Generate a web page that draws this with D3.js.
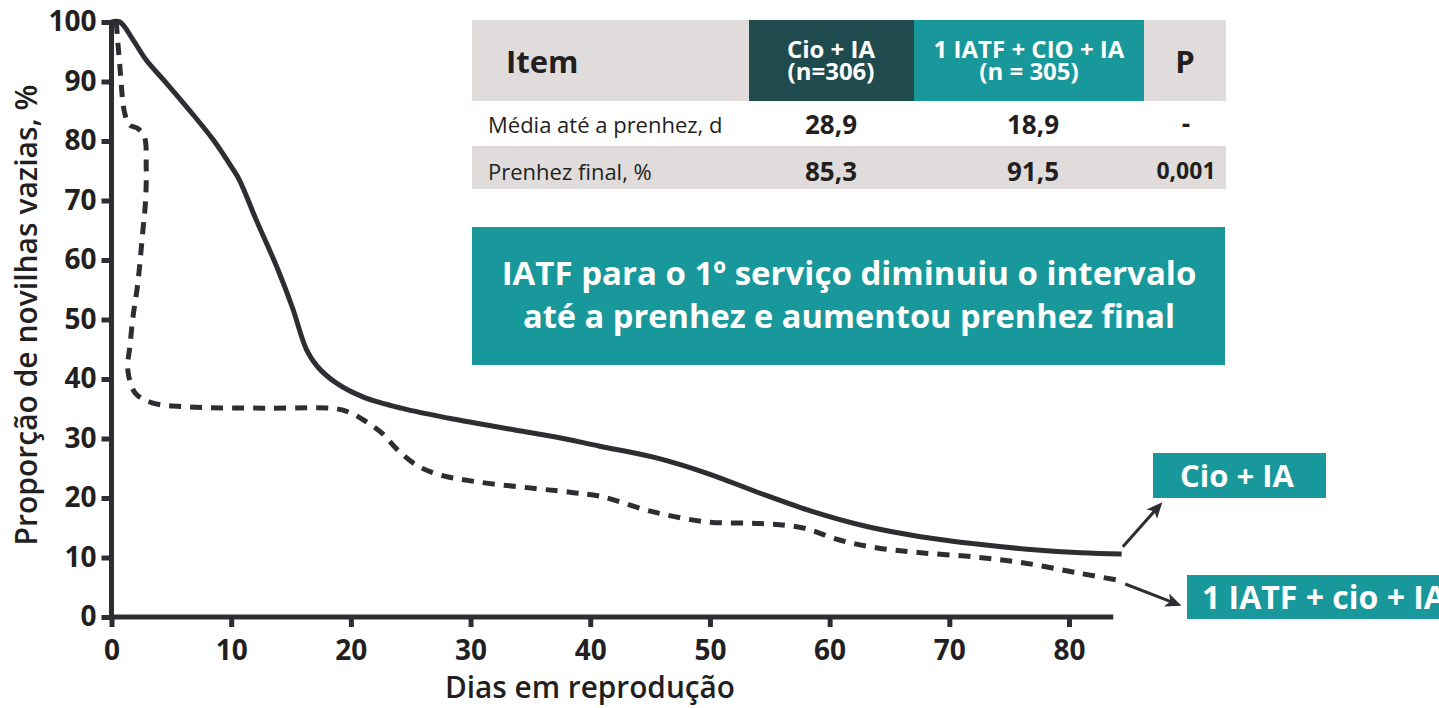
<!DOCTYPE html>
<html>
<head>
<meta charset="utf-8">
<script src="https://cdn.jsdelivr.net/npm/d3@7"></script>
<style>
  html, body { margin: 0; padding: 0; background: #ffffff; }
  svg { display: block; }
  text { font-family: "Open Sans", "Noto Sans", sans-serif; }
</style>
</head>
<body>
<script>
// ---------------- DATA ----------------
const xTicks = [0, 10, 20, 30, 40, 50, 60, 70, 80];
const yTicks = [0, 10, 20, 30, 40, 50, 60, 70, 80, 90, 100];

// Cio + IA (solid)
const cioDays = [0, 0.7, 1.8, 2.9, 4.6, 6.5, 8.5, 10.1, 10.7, 12.1, 13.8, 15.1, 16.3, 17.2, 18.8, 21.0, 24.2, 29.0, 33.8, 37.0, 40.8, 45.2, 49.7, 54.2, 58.6, 63.1, 67.6, 72.1, 76.5, 81.0, 84.4];
const cioPct  = [100, 100, 97.0, 93.6, 89.7, 85.2, 80.2, 75.4, 73.4, 66.7, 58.9, 52.1, 44.9, 42.1, 39.3, 37.0, 35.1, 33.1, 31.4, 30.3, 28.7, 26.9, 24.2, 20.8, 17.7, 15.2, 13.5, 12.3, 11.4, 10.8, 10.6];

// 1 IATF + cio + IA (dashed)
const iatfDays = [0.4, 0.7, 1.1, 1.5, 2.2, 2.75, 2.9, 2.85, 2.6, 2.2, 1.8, 1.5, 1.35, 1.45, 2.0, 3.4, 6.6, 13.0, 18.8, 20.1, 21.3, 22.6, 23.9, 25.5, 27.4, 30.6, 35.4, 38.6, 40.8, 45.2, 49.7, 54.2, 57.7, 60.9, 64.0, 67.6, 72.1, 76.5, 81.0, 84.1];
const iatfPct  = [100, 92.5, 84.7, 82.7, 82.1, 80.7, 75.7, 70.1, 64.5, 56.1, 50.5, 44.9, 42.5, 40.4, 37.6, 36.0, 35.3, 35.1, 35.0, 34.2, 32.8, 30.9, 28.1, 25.5, 23.9, 22.7, 21.6, 20.9, 20.3, 17.7, 16.0, 15.7, 15.0, 12.9, 11.6, 10.8, 10.1, 9.0, 7.3, 6.2];

const seriesNames = ["Cio + IA", "1 IATF + cio + IA"];

// Table
const tableHeader = ["Item", ["Cio + IA", "(n=306)"], ["1 IATF + CIO + IA", "(n = 305)"], "P"];
const rowLabels = ["Média até a prenhez, d", "Prenhez final, %"];
const colCio = ["28,9", "85,3"];
const colIatf = ["18,9", "91,5"];
const colP = ["-", "0,001"];

const boxLines = ["IATF para o 1º serviço diminuiu o intervalo", "até a prenhez e aumentou prenhez final"];
const xTitle = "Dias em reprodução";
const yTitle = "Proporção de novilhas vazias, %";

// ---------------- STYLE ----------------
const INK = "#2e2d33";
const TXT = "#231f20";
const TEAL = "#18989a";
const DARK_TEAL = "#1f4b4f";
const GRAY = "#e0dcdb";

const W = 1439, H = 708;
const svg = d3.select("body").append("svg").attr("width", W).attr("height", H);

const x = d3.scaleLinear().domain([0, 80]).range([111.5, 1069]);
const y = d3.scaleLinear().domain([0, 100]).range([617, 22]);
const xAxisEnd = 83.7;

function fit(sel, target) {
  sel.each(function () {
    const w = this.getComputedTextLength();
    if (w > target) {
      d3.select(this).attr("textLength", target).attr("lengthAdjust", "spacingAndGlyphs");
    }
  });
}

// ---------------- AXES ----------------
const gx = svg.append("g").attr("transform", `translate(0,${y(0)})`)
  .call(d3.axisBottom(x).tickValues(xTicks).tickSize(10).tickPadding(13).tickSizeOuter(0));
gx.select(".domain").remove();
gx.selectAll(".tick line").attr("stroke", INK).attr("stroke-width", 5);
gx.selectAll(".tick text").attr("fill", TXT).attr("font-size", 28).attr("font-weight", 700)
  .attr("font-family", "'Open Sans', sans-serif");

const gy = svg.append("g").attr("transform", `translate(${x(0)},0)`)
  .call(d3.axisLeft(y).tickValues(yTicks).tickSize(10).tickPadding(5).tickSizeOuter(0));
gy.select(".domain").remove();
gy.selectAll(".tick line").attr("stroke", INK).attr("stroke-width", 5);
gy.selectAll(".tick text").attr("fill", TXT).attr("font-size", 28).attr("font-weight", 700)
  .attr("font-family", "'Open Sans', sans-serif");

// axis lines
svg.append("line")
  .attr("x1", x(0)).attr("x2", x(0))
  .attr("y1", y(100) - 2).attr("y2", y(0) + 2.5)
  .attr("stroke", INK).attr("stroke-width", 5);
svg.append("line")
  .attr("x1", x(0) - 2.5).attr("x2", x(xAxisEnd))
  .attr("y1", y(0)).attr("y2", y(0))
  .attr("stroke", INK).attr("stroke-width", 5);

// titles
svg.append("text")
  .attr("x", 590).attr("y", 698)
  .attr("text-anchor", "middle")
  .attr("font-size", 30).attr("font-weight", 600).attr("fill", TXT)
  .text(xTitle).call(fit, 290);
svg.append("text")
  .attr("transform", "rotate(-90)")
  .attr("x", -315).attr("y", 37)
  .attr("text-anchor", "middle")
  .attr("font-size", 30).attr("font-weight", 600).attr("fill", TXT)
  .text(yTitle)
  .call(fit, 462);

// ---------------- LINES ----------------
const line = d3.line()
  .x(d => x(d[0])).y(d => y(d[1]))
  .curve(d3.curveCatmullRom.alpha(0.5));

const cioData = cioDays.map((d, i) => [d, cioPct[i]]);
const iatfData = iatfDays.map((d, i) => [d, iatfPct[i]]);

svg.append("path").datum(cioData)
  .attr("d", line).attr("fill", "none")
  .attr("stroke", INK).attr("stroke-width", 5)
  .attr("stroke-linejoin", "round");

svg.append("path").datum(iatfData)
  .attr("d", line).attr("fill", "none")
  .attr("stroke", INK).attr("stroke-width", 5)
  .attr("stroke-dasharray", "12,9");

// ---------------- TABLE ----------------
const colX = [472, 749, 914, 1144, 1226];
const rowY = [20, 101, 146, 189];
const headFill = [GRAY, DARK_TEAL, TEAL, GRAY];

const tbl = svg.append("g");
headFill.forEach((f, i) => {
  tbl.append("rect")
    .attr("x", colX[i]).attr("y", rowY[0])
    .attr("width", colX[i + 1] - colX[i]).attr("height", rowY[1] - rowY[0])
    .attr("fill", f);
});
tbl.append("rect")
  .attr("x", colX[0]).attr("y", rowY[2])
  .attr("width", colX[4] - colX[0]).attr("height", rowY[3] - rowY[2])
  .attr("fill", GRAY);

// header texts
tbl.append("text").attr("x", 506).attr("y", 73)
  .attr("font-size", 31).attr("font-weight", 700).attr("fill", TXT)
  .text(tableHeader[0]);
[[tableHeader[1], 831, 104], [tableHeader[2], 1029, 213]].forEach(([lines, cx, w]) => {
  const t = tbl.append("text")
    .attr("text-anchor", "middle").attr("font-size", 24).attr("font-weight", 700).attr("fill", "#ffffff");
  t.append("tspan").attr("x", cx).attr("y", 58).text(lines[0]).call(fit, w);
  t.append("tspan").attr("x", cx).attr("y", 80).text(lines[1]).call(fit, w);
});
tbl.append("text").attr("x", 1185).attr("y", 73)
  .attr("text-anchor", "middle").attr("font-size", 31).attr("font-weight", 700).attr("fill", TXT)
  .text(tableHeader[3]);

const rowBase = [133, 180];
rowLabels.forEach((lab, i) => {
  tbl.append("text").attr("x", 488).attr("y", rowBase[i])
    .attr("font-size", 22).attr("font-weight", 400).attr("fill", TXT)
    .text(lab).call(fit, i === 0 ? 244 : 172);
  tbl.append("text").attr("x", 831).attr("y", rowBase[i] + 1)
    .attr("text-anchor", "middle").attr("font-size", 26).attr("font-weight", 700).attr("fill", TXT)
    .text(colCio[i]);
  tbl.append("text").attr("x", 1033).attr("y", rowBase[i] + 1)
    .attr("text-anchor", "middle").attr("font-size", 26).attr("font-weight", 700).attr("fill", TXT)
    .text(colIatf[i]);
  tbl.append("text").attr("x", 1186).attr("y", rowBase[i] - (i === 0 ? 0 : 1))
    .attr("text-anchor", "middle").attr("font-size", i === 0 ? 26 : 23).attr("font-weight", 700).attr("fill", TXT)
    .text(colP[i]);
});

// ---------------- MESSAGE BOX ----------------
svg.append("rect").attr("x", 472).attr("y", 227).attr("width", 753).attr("height", 138).attr("fill", TEAL);
[[boxLines[0], 285, 695], [boxLines[1], 328, 652]].forEach(([t, by, w]) => {
  svg.append("text").attr("x", 849).attr("y", by)
    .attr("text-anchor", "middle").attr("font-size", 33).attr("font-weight", 700).attr("fill", "#ffffff")
    .text(t).call(fit, w);
});

// ---------------- SERIES LABELS + ARROWS ----------------
const defs = svg.append("defs");
defs.append("marker")
  .attr("id", "arrow").attr("markerUnits", "userSpaceOnUse")
  .attr("viewBox", "0 0 16 14").attr("markerWidth", 16).attr("markerHeight", 14)
  .attr("refX", 8).attr("refY", 7).attr("orient", "auto")
  .append("path").attr("d", "M0,0 L16,7 L0,14 L4,7 Z").attr("fill", INK);

function arrow(x1, y1, x2, y2) {
  const dx = x2 - x1, dy = y2 - y1, L = Math.hypot(dx, dy);
  const ex = x2 - dx / L * 8, ey = y2 - dy / L * 8;
  svg.append("line").attr("x1", x1).attr("y1", y1).attr("x2", ex).attr("y2", ey)
    .attr("stroke", INK).attr("stroke-width", 3).attr("marker-end", "url(#arrow)");
}
// arrows anchored to ends of the curves (data units)
arrow(x(84.5), y(11.8), x(87.8), y(19.3));
arrow(x(84.7), y(5.55), x(89.4), y(1.9));

svg.append("rect").attr("x", 1153).attr("y", 453).attr("width", 173).attr("height", 45).attr("fill", TEAL);
svg.append("text").attr("x", 1237).attr("y", 487)
  .attr("text-anchor", "middle").attr("font-size", 31).attr("font-weight", 700).attr("fill", "#ffffff")
  .text(seriesNames[0]).call(fit, 117);

svg.append("rect").attr("x", 1187).attr("y", 575).attr("width", 300).attr("height", 44).attr("fill", TEAL);
svg.append("text").attr("x", 1202).attr("y", 609)
  .attr("font-size", 32).attr("font-weight", 700).attr("fill", "#ffffff")
  .text(seriesNames[1]);
</script>
</body>
</html>
